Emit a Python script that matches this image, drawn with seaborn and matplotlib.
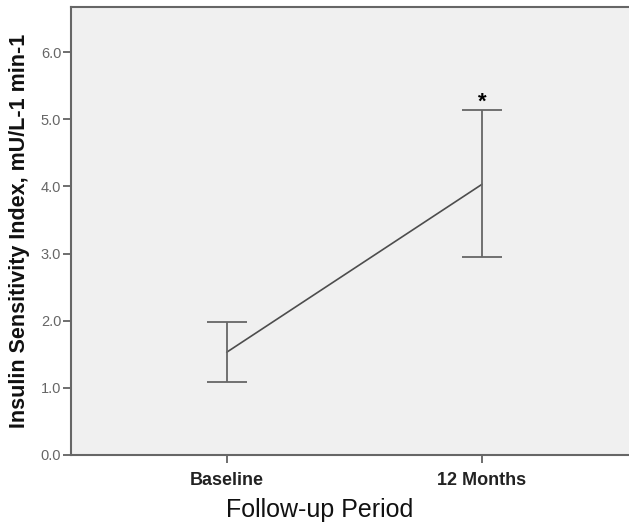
import numpy as np
import pandas as pd
import seaborn as sns
import matplotlib.pyplot as plt

# values
periods = ["Baseline", "12 Months"]
means = [1.53, 4.03]
lower = [1.08, 2.95]
upper = [1.98, 5.14]
sig_marks = ["", "*"]
y_ticks = [0.0, 1.0, 2.0, 3.0, 4.0, 5.0, 6.0]

df = pd.DataFrame({"period": periods, "mean": means, "lower": lower, "upper": upper})

sns.set_theme(style="white")
plt.rcParams["font.family"] = ["Liberation Sans", "DejaVu Sans"]

fig = plt.figure(figsize=(6.29, 5.25), dpi=100)
ax = fig.add_axes([71 / 629, 70 / 525, 1 - 71 / 629, 448 / 525])
ax.set_facecolor("#f0f0f0")

line_col = "#4d4d4d"
sns.lineplot(data=df, x="period", y="mean", ax=ax, color=line_col, linewidth=1.2,
             sort=False)

x_pos = np.arange(len(periods))
yerr = [df["mean"] - df["lower"], df["upper"] - df["mean"]]
ax.errorbar(x_pos, df["mean"], yerr=yerr, fmt="none", ecolor="#666666",
            elinewidth=1.3, capsize=14.4, capthick=1.3)

# significance marker above the upper cap
for xp, top, mark in zip(x_pos, upper, sig_marks):
    if mark:
        ax.text(xp, top - 0.04, mark, ha="center", va="bottom",
                fontsize=16, fontweight="bold", color="black")

ax.set_xlim(-0.61, 1.576)
ax.set_ylim(0, 6.67)
ax.set_yticks(y_ticks)
ax.set_yticklabels([f"{v:.1f}" for v in y_ticks], fontsize=10.5, color="#666666")
ax.set_xticks(x_pos)
ax.set_xticklabels(periods, fontsize=13, fontweight="bold", color="#222222")
ax.tick_params(axis="y", direction="out", length=6, width=1.2,
               color="#555555", left=True, pad=1)
ax.tick_params(axis="x", direction="out", length=6, width=1.2,
               color="#555555", bottom=True, pad=6)

for side in ["left", "bottom", "top"]:
    ax.spines[side].set_color("#666666")
    ax.spines[side].set_linewidth(1.5)
ax.spines["right"].set_visible(False)

ax.set_ylabel("Insulin Sensitivity Index, mU/L-1 min-1", fontsize=15.5,
              fontweight="bold", color="#111111")
ax.yaxis.set_label_coords(-41 / 558, 224 / 448)
ax.set_xlabel("Follow-up Period", fontsize=18, color="#111111")
ax.xaxis.set_label_coords(249 / 558, -0.095)

fig.savefig("out.png", dpi=100)
